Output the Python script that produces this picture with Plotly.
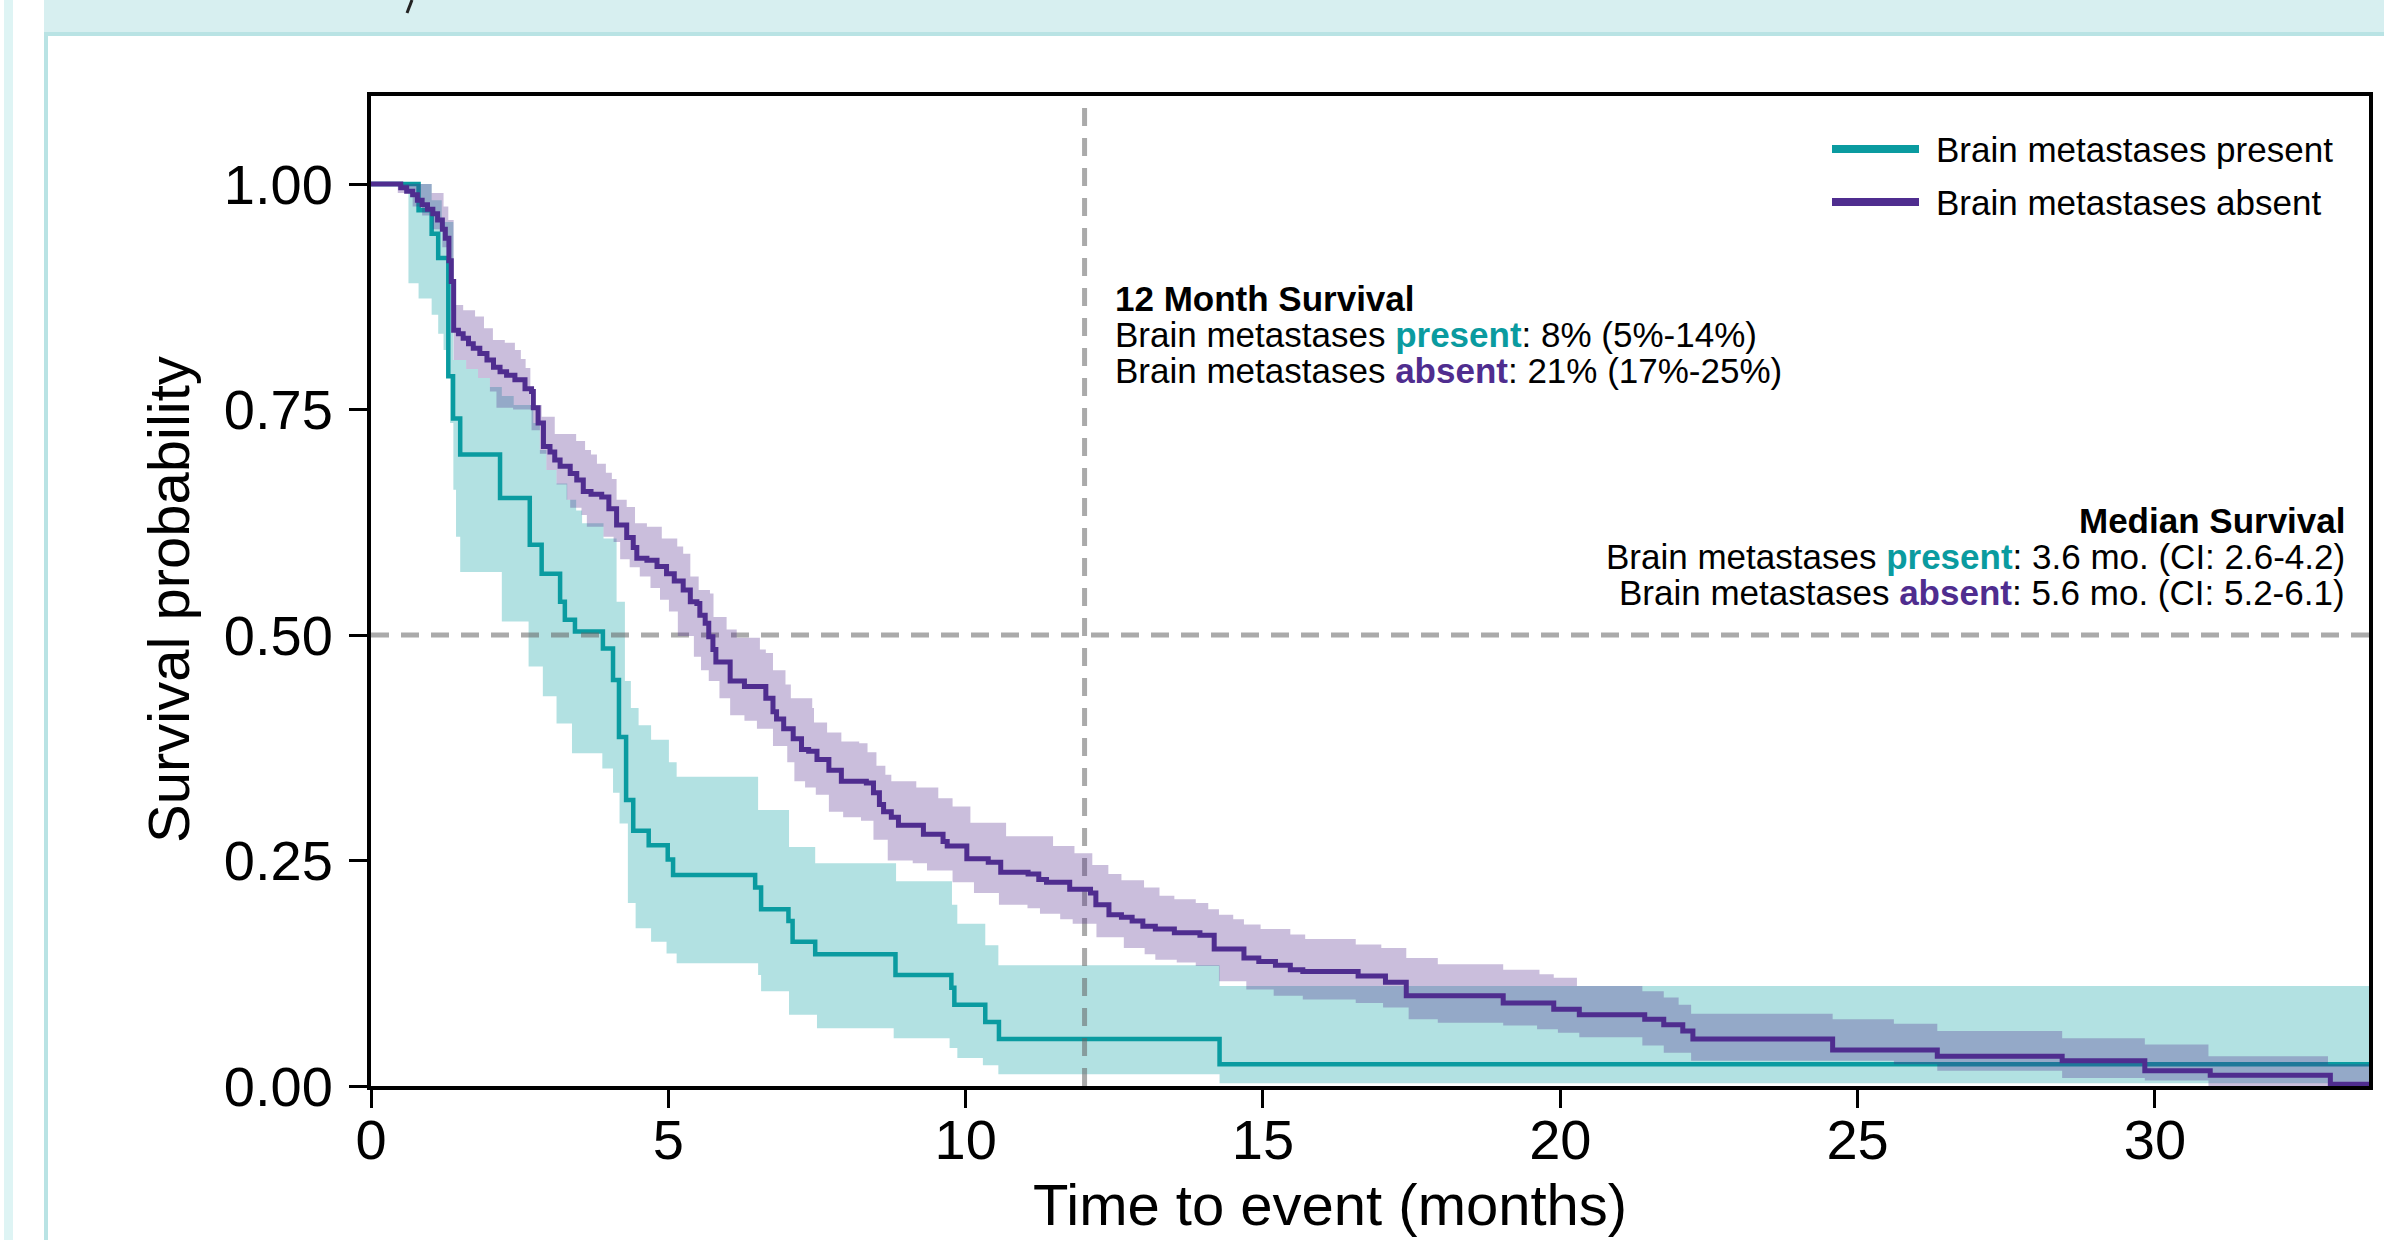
import plotly.graph_objects as go

# ---------------- data ----------------
# Brain metastases present (teal) - Kaplan-Meier estimate
present_t = [0, 0.80, 1.02, 1.13, 1.30, 1.38, 1.50, 2.17, 2.67, 2.87,
             3.18, 3.26, 3.43, 3.90, 4.07, 4.17, 4.29, 4.41, 4.67, 4.99,
             5.08, 6.46, 6.56, 7.02, 7.09, 7.47, 8.82, 9.76, 9.81, 10.33,
             10.56, 14.27, 33.6]
present_s = [1.0, 0.971, 0.945, 0.918, 0.787, 0.740, 0.700, 0.652, 0.600, 0.568,
             0.537, 0.517, 0.504, 0.485, 0.450, 0.387, 0.317, 0.283, 0.267, 0.251,
             0.234, 0.220, 0.196, 0.183, 0.160, 0.146, 0.123, 0.109, 0.090, 0.071,
             0.052, 0.024, 0.024]
present_hi_t = [0.63, 1.02, 1.19, 1.385, 1.6, 1.8, 2.0, 2.2, 2.4, 2.73,
                2.84, 2.95, 3.12, 3.30, 3.45, 3.55, 3.91, 4.13, 4.27, 4.37,
                4.50, 4.71, 5.01, 5.14, 6.51, 7.03, 7.47, 8.83, 9.77, 9.86,
                10.33, 10.55, 14.27, 33.6]
present_hi_v = [1.0, 0.982, 0.958, 0.805, 0.795, 0.785, 0.775, 0.765, 0.755, 0.735,
                0.705, 0.683, 0.668, 0.650, 0.638, 0.624, 0.607, 0.537, 0.449, 0.419,
                0.400, 0.384, 0.359, 0.343, 0.306, 0.265, 0.247, 0.227, 0.201, 0.180,
                0.156, 0.134, 0.111, 0.111]
present_lo_t = [0.63, 0.80, 1.02, 1.13, 1.22, 1.33, 1.385, 1.43, 1.50, 2.2,
                2.65, 2.89, 3.12, 3.38, 3.89, 4.07, 4.18, 4.32, 4.45, 4.71,
                4.97, 5.14, 6.51, 6.56, 7.03, 7.5, 8.79, 9.73, 9.86, 10.29,
                10.55, 14.27, 33.6]
present_lo_v = [0.89, 0.873, 0.855, 0.834, 0.816, 0.735, 0.661, 0.609, 0.570, 0.515,
                0.465, 0.432, 0.402, 0.369, 0.352, 0.325, 0.291, 0.203, 0.175, 0.160,
                0.147, 0.136, 0.123, 0.105, 0.079, 0.064, 0.053, 0.042, 0.031, 0.023,
                0.013, 0.003, 0.003]

# Brain metastases absent (purple)
absent_t = [0, 0.50, 0.60, 0.70, 0.78, 0.86, 0.95, 1.04, 1.12, 1.20,
            1.25, 1.31, 1.35, 1.39, 1.47, 1.55, 1.64, 1.72, 1.83, 1.95,
            2.06, 2.17, 2.28, 2.42, 2.59, 2.70, 2.73, 2.81, 2.90, 3.01,
            3.09, 3.18, 3.35, 3.46, 3.57, 3.70, 3.88, 4.00, 4.13, 4.30,
            4.41, 4.47, 4.64, 4.81, 4.97, 5.10, 5.25, 5.37, 5.48, 5.53,
            5.62, 5.68, 5.75, 5.80, 6.04, 6.28, 6.64, 6.76, 6.82, 6.94,
            7.10, 7.24, 7.36, 7.50, 7.70, 7.91, 8.33, 8.45, 8.55, 8.62,
            8.75, 8.87, 9.29, 9.62, 9.69, 10.02, 10.38, 10.59, 11.05, 11.23,
            11.36, 11.75, 12.10, 12.19, 12.41, 12.62, 12.80, 12.98, 13.19, 13.51,
            13.94, 14.18, 14.68, 14.93, 15.21, 15.46, 15.67, 16.60, 17.06, 17.41,
            19.04, 19.89, 20.32, 21.42, 21.74, 22.06, 22.23, 24.58, 26.34, 28.44,
            29.83, 30.93, 32.95, 33.6]
absent_s = [1.0, 0.996, 0.992, 0.988, 0.982, 0.977, 0.972, 0.967, 0.960, 0.950,
            0.940, 0.915, 0.892, 0.838, 0.834, 0.829, 0.823, 0.818, 0.812, 0.805,
            0.797, 0.792, 0.788, 0.783, 0.773, 0.770, 0.752, 0.735, 0.709, 0.703,
            0.694, 0.687, 0.679, 0.672, 0.659, 0.656, 0.653, 0.640, 0.622, 0.608,
            0.597, 0.585, 0.583, 0.576, 0.568, 0.560, 0.550, 0.537, 0.535, 0.522,
            0.513, 0.498, 0.484, 0.470, 0.449, 0.443, 0.430, 0.415, 0.407, 0.396,
            0.385, 0.373, 0.371, 0.362, 0.350, 0.338, 0.336, 0.325, 0.312, 0.304,
            0.298, 0.289, 0.279, 0.271, 0.266, 0.252, 0.248, 0.237, 0.235, 0.229,
            0.226, 0.218, 0.214, 0.201, 0.190, 0.187, 0.183, 0.177, 0.174, 0.170,
            0.167, 0.152, 0.142, 0.138, 0.134, 0.129, 0.127, 0.122, 0.115, 0.100,
            0.092, 0.085, 0.079, 0.074, 0.068, 0.061, 0.052, 0.040, 0.033, 0.028,
            0.017, 0.012, 0.002, 0.002]
absent_hi_t = [0.45, 1.02, 1.22, 1.30, 1.39, 1.55, 1.75, 1.9, 2.05, 2.25,
               2.42, 2.52, 2.6, 2.68, 2.87, 3.09, 3.45, 3.6, 3.70, 3.80,
               3.95, 4.05, 4.13, 4.3, 4.44, 4.64, 4.89, 5.15, 5.25, 5.37,
               5.51, 5.70, 5.76, 5.98, 6.15, 6.54, 6.64, 6.76, 6.97, 7.06,
               7.42, 7.45, 7.67, 7.91, 8.21, 8.35, 8.5, 8.65, 8.75, 9.17,
               9.54, 9.78, 10.08, 10.68, 11.47, 11.83, 12.13, 12.40, 12.62, 13.0,
               13.26, 13.51, 13.87, 14.08, 14.26, 14.50, 14.68, 14.96, 15.46, 15.71,
               16.56, 16.99, 17.41, 17.94, 19.04, 19.65, 19.89, 20.28, 21.38, 21.74,
               21.99, 22.2, 24.58, 25.61, 26.34, 28.44, 29.83, 30.90, 32.91, 33.6]
absent_hi_v = [1.0, 0.99, 0.975, 0.96, 0.866, 0.86, 0.853, 0.84, 0.827, 0.824,
               0.816, 0.806, 0.796, 0.755, 0.742, 0.723, 0.715, 0.705, 0.70, 0.690,
               0.68, 0.673, 0.650, 0.642, 0.624, 0.620, 0.607, 0.598, 0.59, 0.565,
               0.550, 0.546, 0.520, 0.506, 0.497, 0.484, 0.480, 0.461, 0.445, 0.430,
               0.419, 0.403, 0.392, 0.382, 0.380, 0.37, 0.355, 0.345, 0.338, 0.331,
               0.319, 0.310, 0.292, 0.277, 0.266, 0.258, 0.245, 0.235, 0.228, 0.22,
               0.211, 0.207, 0.203, 0.196, 0.190, 0.185, 0.179, 0.174, 0.168, 0.163,
               0.157, 0.153, 0.142, 0.135, 0.129, 0.124, 0.120, 0.111, 0.105, 0.098,
               0.090, 0.080, 0.074, 0.069, 0.061, 0.053, 0.046, 0.033, 0.024, 0.024]
absent_lo_t = [0.45, 0.7, 0.86, 1.04, 1.2, 1.31, 1.35, 1.39, 1.6, 1.8,
               2.0, 2.11, 2.39, 2.70, 2.84, 2.95, 3.12, 3.29, 3.35, 3.54,
               3.63, 3.91, 4.08, 4.19, 4.35, 4.52, 4.70, 4.86, 5.01, 5.16,
               5.43, 5.55, 5.68, 5.86, 6.04, 6.28, 6.49, 6.76, 7.0, 7.12,
               7.30, 7.48, 7.70, 7.94, 8.24, 8.45, 8.69, 9.11, 9.35, 9.78,
               10.14, 10.56, 11.04, 11.25, 11.59, 11.80, 12.2, 12.66, 13.01, 13.19,
               13.55, 13.87, 14.26, 14.72, 15.18, 15.67, 16.56, 17.02, 17.45, 17.94,
               19.04, 19.61, 19.96, 20.32, 21.38, 21.74, 22.2, 25.61, 26.34, 28.44,
               29.83, 30.90, 33.6]
absent_lo_v = [0.99, 0.975, 0.965, 0.95, 0.93, 0.89, 0.86, 0.805, 0.795, 0.785,
               0.77, 0.752, 0.750, 0.727, 0.701, 0.683, 0.667, 0.650, 0.641, 0.633,
               0.620, 0.609, 0.603, 0.584, 0.575, 0.565, 0.552, 0.539, 0.526, 0.499,
               0.476, 0.461, 0.449, 0.430, 0.411, 0.405, 0.396, 0.377, 0.359, 0.338,
               0.331, 0.323, 0.304, 0.298, 0.294, 0.273, 0.250, 0.247, 0.239, 0.226,
               0.214, 0.201, 0.197, 0.191, 0.185, 0.180, 0.165, 0.153, 0.146, 0.140,
               0.137, 0.133, 0.116, 0.107, 0.100, 0.096, 0.092, 0.087, 0.074, 0.070,
               0.067, 0.063, 0.059, 0.054, 0.045, 0.037, 0.028, 0.024, 0.017, 0.009,
               0.006, 0.0, 0.0]

for a, b in [(present_t, present_s), (present_hi_t, present_hi_v), (present_lo_t, present_lo_v),
             (absent_t, absent_s), (absent_hi_t, absent_hi_v), (absent_lo_t, absent_lo_v)]:
    assert len(a) == len(b), (len(a), len(b))

x_ticks = [0, 5, 10, 15, 20, 25, 30]
y_ticks = [0, 0.25, 0.5, 0.75, 1.0]
y_ticktext = ["0.00", "0.25", "0.50", "0.75", "1.00"]
x_range = [0, 33.6]
y_range = [0, 1.0976]
median_level = 0.5
landmark_month = 12

names = ["Brain metastases present", "Brain metastases absent"]
TEAL = "#0a9ba0"
PURPLE = "#4f2d8f"
TEAL_FILL = "rgba(0,154,158,0.30)"
PURPLE_FILL = "rgba(80,40,140,0.30)"
REF = "rgba(100,100,100,0.55)"
FONT = "Liberation Sans, Arial, Helvetica, sans-serif"

# ---------------- helpers ----------------
def step_xy(ts, vs):
    xs, ys = [], []
    for i, (t, v) in enumerate(zip(ts, vs)):
        if i > 0:
            xs.append(t)
            ys.append(vs[i - 1])
        xs.append(t)
        ys.append(v)
    return xs, ys

def band_polygon(ht, hv, lt, lv):
    ux, uy = step_xy(ht, hv)
    lx, ly = step_xy(lt, lv)
    return ux + lx[::-1] + [ux[0]], uy + ly[::-1] + [uy[0]]

# figure pixel geometry -> paper coords
FW, FH = 2384, 1240
L, R, T, B = 371, 2369, 96, 1086
def fx(px):
    return (px - L) / (R - L)
def fy(py):
    return (B - py) / (B - T)

fig = go.Figure()

# teal band + line
bx, by = band_polygon(present_hi_t, present_hi_v, present_lo_t, present_lo_v)
fig.add_trace(go.Scatter(x=bx, y=by, mode="lines", fill="toself", fillcolor=TEAL_FILL,
                         line=dict(width=0), hoverinfo="skip", showlegend=False))
fig.add_trace(go.Scatter(x=present_t, y=present_s, mode="lines", line_shape="hv",
                         line=dict(color=TEAL, width=4.5), name=names[0], showlegend=False))

# reference lines
fig.add_trace(go.Scatter(x=x_range, y=[median_level, median_level], mode="lines",
                         line=dict(color=REF, width=5, dash="18px,12px"),
                         hoverinfo="skip", showlegend=False))
fig.add_trace(go.Scatter(x=[landmark_month, landmark_month], y=y_range, mode="lines",
                         line=dict(color=REF, width=5, dash="18px,12px"),
                         hoverinfo="skip", showlegend=False))

# purple band + line
bx, by = band_polygon(absent_hi_t, absent_hi_v, absent_lo_t, absent_lo_v)
fig.add_trace(go.Scatter(x=bx, y=by, mode="lines", fill="toself", fillcolor=PURPLE_FILL,
                         line=dict(width=0), hoverinfo="skip", showlegend=False))
fig.add_trace(go.Scatter(x=absent_t, y=absent_s, mode="lines", line_shape="hv",
                         line=dict(color=PURPLE, width=5), name=names[1], showlegend=False))

axis_common = dict(showgrid=False, zeroline=False, showline=True, linecolor="black",
                   linewidth=4, mirror=True, ticks="outside", ticklen=18, tickwidth=3,
                   tickcolor="black", tickfont=dict(family=FONT, size=56, color="black"))

fig.update_layout(
    width=FW, height=FH,
    margin=dict(l=L, r=FW - R, t=T, b=FH - B, pad=0),
    paper_bgcolor="white", plot_bgcolor="white",
    showlegend=False,
    font=dict(family=FONT, color="black"),
    xaxis=dict(range=x_range, tickvals=x_ticks, ticklabelstandoff=-16, **axis_common),
    yaxis=dict(range=y_range, tickvals=y_ticks, ticktext=y_ticktext, ticklabelstandoff=5,
               **axis_common),
)

shapes = []
# page decoration (panel frame of the source document)
shapes.append(dict(type="rect", xref="paper", yref="paper", x0=fx(4), x1=fx(13),
                   y0=fy(FH), y1=fy(0), fillcolor="#def4f4", line=dict(width=0)))
shapes.append(dict(type="rect", xref="paper", yref="paper", x0=fx(44), x1=fx(48),
                   y0=fy(FH), y1=fy(0), fillcolor="#b9e3e4", line=dict(width=0)))
shapes.append(dict(type="rect", xref="paper", yref="paper", x0=fx(44), x1=fx(FW),
                   y0=fy(32), y1=fy(0), fillcolor="#d7eff0", line=dict(width=0)))
shapes.append(dict(type="rect", xref="paper", yref="paper", x0=fx(44), x1=fx(FW),
                   y0=fy(36), y1=fy(32), fillcolor="#b9e3e4", line=dict(width=0)))
shapes.append(dict(type="line", xref="paper", yref="paper", x0=fx(412), x1=fx(407),
                   y0=fy(0), y1=fy(13), line=dict(color="#222222", width=3)))
# legend keys
for col, ypx in [(TEAL, 149), (PURPLE, 202)]:
    shapes.append(dict(type="line", xref="paper", yref="paper", x0=fx(1832), x1=fx(1919),
                       y0=fy(ypx), y1=fy(ypx), line=dict(color=col, width=8)))
fig.update_layout(shapes=shapes)

def ann(text, px, py, size, xanchor="left", yanchor="middle", **kw):
    fig.add_annotation(text=text, x=fx(px), y=fy(py), xref="paper", yref="paper",
                       showarrow=False, xanchor=xanchor, yanchor=yanchor,
                       font=dict(family=FONT, size=size, color="black"), **kw)

tp = "<b><span style='color:%s'>present</span></b>" % TEAL
ab = "<b><span style='color:%s'>absent</span></b>" % PURPLE

# legend text
ann(names[0], 1934, 149, 35)
ann(names[1], 1934, 202, 35)

# 12 month survival block
ann("<b>12 Month Survival</b>", 1113, 298, 35)
ann("Brain metastases " + tp + ": 8% (5%-14%)", 1113, 334, 35)
ann("Brain metastases " + ab + ": 21% (17%-25%)", 1113, 370, 35)

# median survival block
ann("<b>Median Survival</b>", 2347, 520, 35, xanchor="right")
ann("Brain metastases " + tp + ": 3.6 mo. (CI: 2.6-4.2)", 2347, 556, 35, xanchor="right")
ann("Brain metastases " + ab + ": 5.6 mo. (CI: 5.2-6.1)", 2347, 592, 35, xanchor="right")

# axis titles
ann("Time to event (months)", 1330, 1204, 58, xanchor="center")
ann("Survival probability", 168, 600, 58, xanchor="center", textangle=-90)

fig.write_html("out.html", config={"displayModeBar": False},
               post_script="document.body.style.margin='0px';")
